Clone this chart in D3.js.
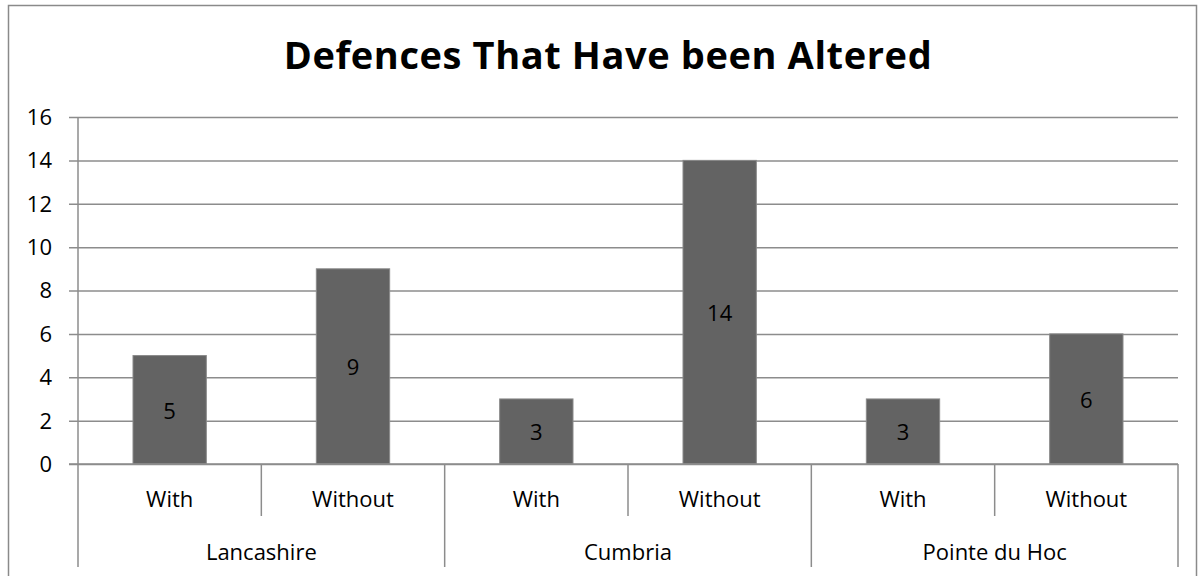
<!DOCTYPE html>
<html>
<head>
<meta charset="utf-8">
<script src="https://cdn.jsdelivr.net/npm/d3@7"></script>
<style>
  html, body { margin: 0; padding: 0; background: #fff; }
  svg { display: block; }
  text { font-family: "Open Sans", "Noto Sans", "Liberation Sans", sans-serif; fill: #000; }
</style>
</head>
<body>
<svg id="chart" width="1202" height="576"></svg>
<script>
// Chart data
const groups = ["Lancashire", "Cumbria", "Pointe du Hoc"];
const subCategories = ["With", "Without"];
const values = [5, 9, 3, 14, 3, 6];
const yTicks = [0, 2, 4, 6, 8, 10, 12, 14, 16];
const title = "Defences That Have been Altered";

const svg = d3.select("#chart");
const W = 1202, H = 576;
const plot = { left: 78, right: 1178, top: 117, bottom: 464 };
const labelSize = 22;
const lineColor = "#8c8c8c";

// Outer chart frame
svg.append("rect")
  .attr("x", 8.5).attr("y", 5.5)
  .attr("width", W - 14).attr("height", H)
  .attr("fill", "#fff").attr("stroke", "#8a8a8a").attr("stroke-width", 1.5);

// Flattened category keys: group|sub
const rows = [];
groups.forEach((g, gi) => subCategories.forEach((s, si) => {
  rows.push({ key: g + "|" + s, group: g, sub: s, value: values[gi * subCategories.length + si] });
}));

const x = d3.scaleBand()
  .domain(rows.map(d => d.key))
  .range([plot.left, plot.right])
  .paddingInner(0.6)
  .paddingOuter(0.3);

const y = d3.scaleLinear().domain([0, 16]).range([plot.bottom, plot.top]);

// Gridlines and y tick labels
const yAxis = d3.axisLeft(y).tickValues(yTicks).tickSize(-(plot.right - plot.left)).tickPadding(26);
const yg = svg.append("g").attr("transform", `translate(${plot.left},0)`).call(yAxis);
yg.select(".domain").remove();
yg.selectAll(".tick line")
  .attr("x1", -9)
  .attr("stroke", lineColor).attr("stroke-width", 1.5);
yg.selectAll(".tick text")
  .attr("font-size", labelSize).attr("fill", "#000")
  .attr("dy", "0.34em")
  .style("font-family", "'Open Sans', sans-serif");

// Vertical axis line
svg.append("line")
  .attr("x1", plot.left).attr("x2", plot.left)
  .attr("y1", plot.top).attr("y2", plot.bottom)
  .attr("stroke", lineColor).attr("stroke-width", 1.5);

// Bars
svg.append("g").selectAll("rect").data(rows).join("rect")
  .attr("x", d => x(d.key))
  .attr("y", d => y(d.value))
  .attr("width", x.bandwidth())
  .attr("height", d => y(0) - y(d.value))
  .attr("fill", "#636363")
  .attr("stroke", "#8a8a8a").attr("stroke-width", 1);

// Value labels centred in bars
svg.append("g").selectAll("text").data(rows).join("text")
  .attr("x", d => x(d.key) + x.bandwidth() / 2)
  .attr("y", d => (y(d.value) + y(0)) / 2)
  .attr("text-anchor", "middle").attr("dominant-baseline", "central")
  .attr("font-size", labelSize)
  .text(d => d.value);

// Category axis: baseline, dividers, labels
const step = x.step();
const slotStart = i => plot.left + i * step;
svg.append("line")
  .attr("x1", plot.left - 9).attr("x2", plot.right)
  .attr("y1", plot.bottom).attr("y2", plot.bottom)
  .attr("stroke", lineColor).attr("stroke-width", 1.5);

const divG = svg.append("g").attr("stroke", lineColor).attr("stroke-width", 1.5);
for (let i = 0; i <= rows.length; i++) {
  const isGroupEdge = i % subCategories.length === 0;
  divG.append("line")
    .attr("x1", slotStart(i)).attr("x2", slotStart(i))
    .attr("y1", plot.bottom).attr("y2", isGroupEdge ? 567 : 516);
}

svg.append("g").selectAll("text").data(rows).join("text")
  .attr("x", (d, i) => slotStart(i) + step / 2)
  .attr("y", 498)
  .attr("text-anchor", "middle").attr("dominant-baseline", "central")
  .attr("font-size", labelSize)
  .text(d => d.sub);

svg.append("g").selectAll("text").data(groups).join("text")
  .attr("x", (d, i) => slotStart(i * subCategories.length) + step * subCategories.length / 2)
  .attr("y", 551)
  .attr("text-anchor", "middle").attr("dominant-baseline", "central")
  .attr("font-size", labelSize)
  .text(d => d);

// Title
svg.append("text")
  .attr("x", 608).attr("y", 69)
  .attr("text-anchor", "middle")
  .attr("font-size", 38).attr("font-weight", "bold")
  .attr("letter-spacing", 0.6)
  .text(title);
</script>
</body>
</html>
